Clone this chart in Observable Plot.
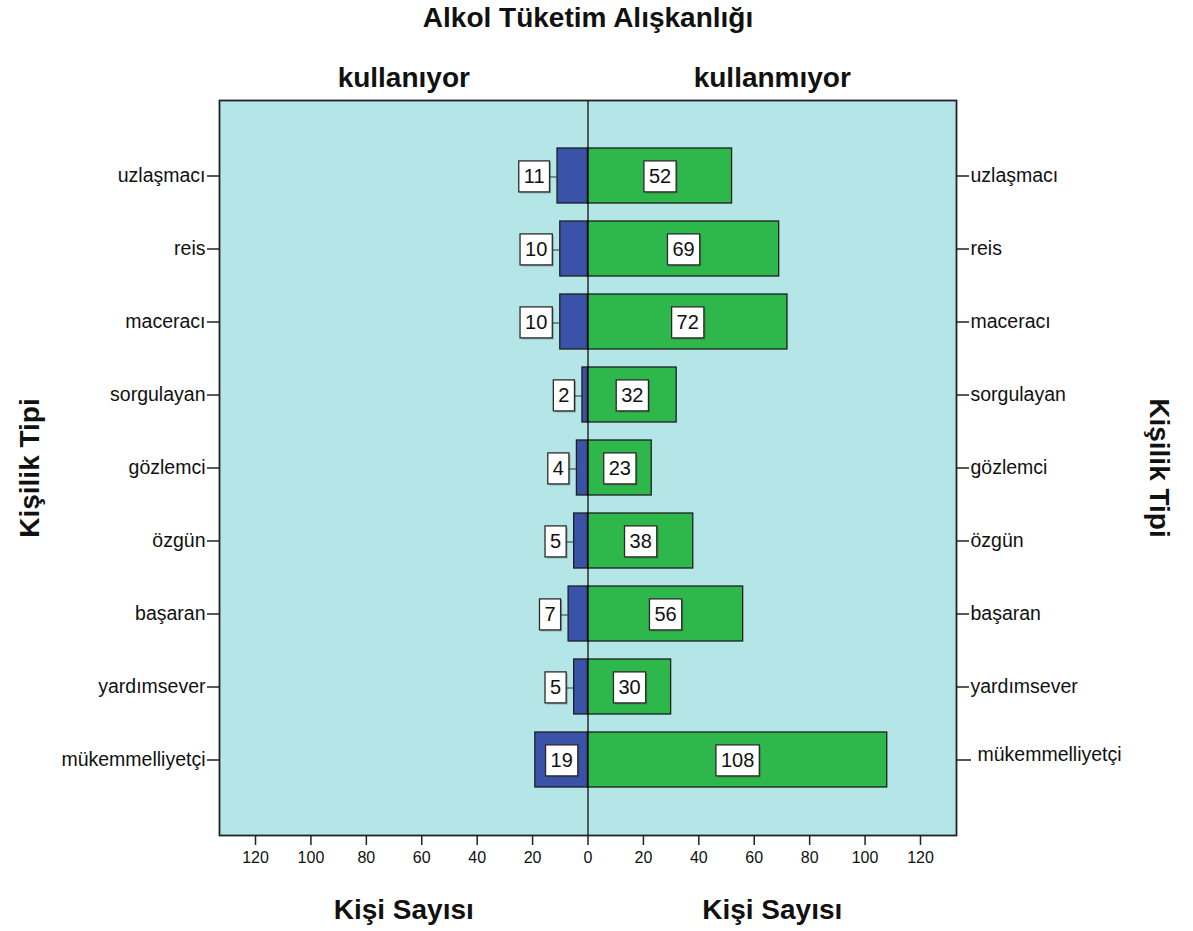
<!DOCTYPE html>
<html>
<head>
<meta charset="utf-8">
<script src="https://cdn.jsdelivr.net/npm/d3@7"></script>
<script src="https://cdn.jsdelivr.net/npm/@observablehq/plot@0.6"></script>
<style>
  html, body { margin: 0; padding: 0; background: #fff; }
  #chart { width: 1193px; height: 931px; }
</style>
</head>
<body>
<div id="chart"></div>
<script>
// Personality types, top to bottom
const categories = ["uzlaşmacı", "reis", "maceracı", "sorgulayan", "gözlemci", "özgün", "başaran", "yardımsever", "mükemmelliyetçi"];
// Counts of people who use alcohol (left panel)
const kullaniyor = [11, 10, 10, 2, 4, 5, 7, 5, 19];
// Counts of people who do not use alcohol (right panel)
const kullanmiyor = [52, 69, 72, 32, 23, 38, 56, 30, 108];
// Axis tick values (shown as absolute counts on both sides)
const xTicks = [-120, -100, -80, -60, -40, -20, 0, 20, 40, 60, 80, 100, 120];
const panelNames = ["kullanıyor", "kullanmıyor"];

const xMax = 133;
const font = "'Liberation Sans', Arial, sans-serif";

const left = categories.map((c, i) => ({cat: c, v: kullaniyor[i]}));
const right = categories.map((c, i) => ({cat: c, v: kullanmiyor[i]}));

// Blue bars too narrow for their label get the label outside with a leader
const leftInside = left.filter(d => d.v >= 15);
const leftOutside = left.filter(d => d.v < 15);

const axisStyle = {stroke: "#222", strokeWidth: 1.5, label: null};
const titleStyle = {fontSize: 28, fontWeight: "bold", fill: "#111", lineAnchor: "middle", textAnchor: "middle"};
const valueStyle = {y: "cat", text: d => String(d.v), fontSize: 20, fill: "#111", dy: 1, className: "vlabel"};

const chart = Plot.plot({
  width: 1193,
  height: 931,
  marginLeft: 219,
  marginRight: 237,
  marginTop: 100,
  marginBottom: 96,
  style: {fontFamily: font, fontSize: "18px", color: "#111", background: "#fff"},
  x: {domain: [-xMax, xMax], axis: null},
  y: {domain: categories, type: "band", range: [146, 790], paddingInner: 0.245, paddingOuter: 0, axis: null},
  marks: [
    Plot.frame({fill: "#b4e6e8", stroke: null}),
    // bars
    Plot.barX(left, {y: "cat", x1: 0, x2: d => -d.v, fill: "#3a53a9", stroke: "#1e1e1e", strokeWidth: 1.3}),
    Plot.barX(right, {y: "cat", x1: 0, x2: "v", fill: "#2eb84b", stroke: "#1e1e1e", strokeWidth: 1.3}),
    // zero line
    Plot.ruleX([0], {stroke: "#000", strokeWidth: 1.2}),
    // leader lines for outside labels
    Plot.ruleY(leftOutside, {y: "cat", x1: d => -d.v - 3, x2: d => -d.v, dy: 1, stroke: "#333", strokeWidth: 1}),
    // value labels
    Plot.text(right, {x: d => d.v / 2, ...valueStyle}),
    Plot.text(leftInside, {x: d => -d.v / 2, ...valueStyle}),
    Plot.text(leftOutside, {x: d => -d.v, dx: -13, textAnchor: "end", ...valueStyle}),
    // x axis (counts on both sides)
    Plot.axisX({ticks: xTicks, tickFormat: d => Math.abs(d), tickSize: 10, tickPadding: 6, fontSize: 16, ...axisStyle}),
    // y axes, left and right
    Plot.axisY({anchor: "left", tickSize: 12, tickPadding: 2, fontSize: 19.5, ...axisStyle}),
    Plot.axisY({anchor: "right", ticks: categories.slice(0, -1), tickSize: 12, tickPadding: 2, fontSize: 19.5, ...axisStyle}),
    Plot.axisY({anchor: "right", ticks: categories.slice(-1), tickSize: 14, tickFormat: () => "", ...axisStyle}),
    Plot.axisY({anchor: "right", ticks: categories.slice(-1), tickSize: 0, tickPadding: 21, fontSize: 19.5, dy: -5, ...axisStyle}),
    // frame border
    Plot.frame({stroke: "#222", strokeWidth: 1.8}),
    // titles
    Plot.text(["Alkol Tüketim Alışkanlığı"], {frameAnchor: "top", dy: -82, ...titleStyle}),
    Plot.text(panelNames, {x: (d, i) => (i === 0 ? -xMax / 2 : xMax / 2), frameAnchor: "top", dy: -22, ...titleStyle}),
    Plot.text(["Kişi Sayısı", "Kişi Sayısı"], {x: (d, i) => (i === 0 ? -xMax / 2 : xMax / 2), frameAnchor: "bottom", dy: 75, ...titleStyle}),
    Plot.text(["Kişilik Tipi"], {frameAnchor: "left", dx: -189, rotate: -90, ...titleStyle}),
    Plot.text(["Kişilik Tipi"], {frameAnchor: "right", dx: 202, rotate: 90, ...titleStyle})
  ]
});

document.getElementById("chart").append(chart);

// Put a white box with a dark border (and a faint shadow) behind every value label
const ns = "http://www.w3.org/2000/svg";
chart.querySelectorAll(".vlabel text").forEach(t => {
  const bb = t.getBBox();
  const padX = 5, h = 31;
  const tr = t.getAttribute("transform");
  const cy = bb.y + bb.height / 2;
  const mk = (dx, dy, fill, stroke) => {
    const r = document.createElementNS(ns, "rect");
    r.setAttribute("x", bb.x - padX + dx);
    r.setAttribute("y", cy - h / 2 + dy);
    r.setAttribute("width", bb.width + 2 * padX);
    r.setAttribute("height", h);
    r.setAttribute("fill", fill);
    if (stroke) { r.setAttribute("stroke", stroke); r.setAttribute("stroke-width", 1.3); }
    else r.setAttribute("fill-opacity", 0.35);
    if (tr) r.setAttribute("transform", tr);
    return r;
  };
  t.parentNode.insertBefore(mk(1.5, 1.5, "#333", null), t);
  t.parentNode.insertBefore(mk(0, 0, "#fff", "#2a2a2a"), t);
});
</script>
</body>
</html>
